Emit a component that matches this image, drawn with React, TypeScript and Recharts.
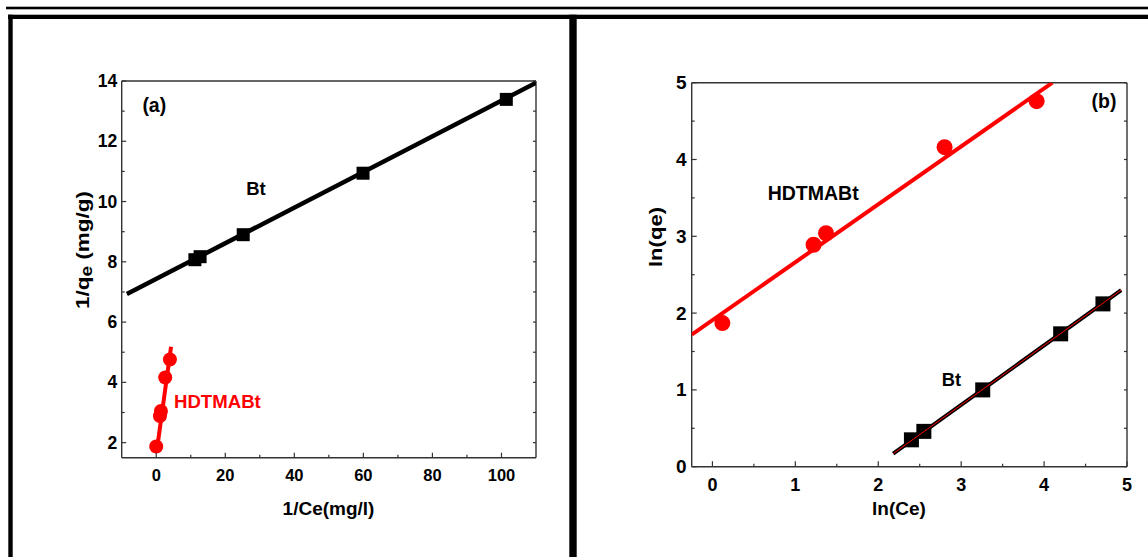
import React from 'react';
import { ScatterChart, Scatter, XAxis, YAxis } from 'recharts';

// ---------- data ----------
const leftBtPoints = [
  { x: 11.2, y: 8.07 },
  { x: 12.7, y: 8.17 },
  { x: 25.2, y: 8.9 },
  { x: 59.9, y: 10.94 },
  { x: 101.4, y: 13.39 },
];
const leftBtFit = [
  { x: -8.5, y: 6.93 },
  { x: 110, y: 13.94 },
];
const leftHdPoints = [
  { x: 0, y: 1.87 },
  { x: 1.07, y: 2.88 },
  { x: 1.36, y: 3.05 },
  { x: 2.6, y: 4.16 },
  { x: 3.97, y: 4.76 },
];
const leftHdFit = [
  { x: 0.1, y: 1.68 },
  { x: 4.3, y: 5.18 },
];

const rightHdPoints = [
  { x: 0.12, y: 1.87 },
  { x: 1.22, y: 2.89 },
  { x: 1.37, y: 3.04 },
  { x: 2.8, y: 4.16 },
  { x: 3.91, y: 4.76 },
];
const rightHdFit = [
  { x: -0.25, y: 1.72 },
  { x: 4.1, y: 5.0 },
];
const rightBtPoints = [
  { x: 2.4, y: 0.35 },
  { x: 2.55, y: 0.46 },
  { x: 3.26, y: 1.0 },
  { x: 4.2, y: 1.73 },
  { x: 4.71, y: 2.12 },
];
const rightBtFit = [
  { x: 2.18, y: 0.17 },
  { x: 4.93, y: 2.3 },
];

// ticks
const leftXTicks = [0, 10, 20, 30, 40, 50, 60, 70, 80, 90, 100];
const leftXMajor = [0, 20, 40, 60, 80, 100];
const leftYTicks = [2, 3, 4, 5, 6, 7, 8, 9, 10, 11, 12, 13, 14];
const leftYMajor = [2, 4, 6, 8, 10, 12, 14];
const rightXTicks = [0, 0.5, 1, 1.5, 2, 2.5, 3, 3.5, 4, 4.5, 5];
const rightXMajor = [0, 1, 2, 3, 4, 5];
const rightYTicks = [0, 0.5, 1, 1.5, 2, 2.5, 3, 3.5, 4, 4.5, 5];
const rightYMajor = [0, 1, 2, 3, 4, 5];

const FONT = "'Liberation Sans', Arial, Helvetica, sans-serif";
const AXIS = '#333';
const RED = '#ff0000';

type Side = 'bottom' | 'top' | 'left' | 'right';
interface TickOpts {
  side: Side;
  majors: number[];
  major: number;
  minor: number;
  fontSize?: number;
  labelOffset?: number;
  showLabel: boolean;
}

const makeTick = (o: TickOpts) => (props: any) => {
  const { x, y, payload } = props;
  const v = payload.value;
  const isMajor = o.majors.some((m) => Math.abs(m - v) < 1e-9);
  const len = isMajor ? o.major : o.minor;
  let line: any = null;
  let label: any = null;
  const txt = String(v);
  const tprops = {
    fontFamily: FONT,
    fontWeight: 'bold' as const,
    fontSize: o.fontSize,
    fill: '#000',
    dominantBaseline: 'central' as const,
  };
  if (o.side === 'bottom') {
    line = <line x1={x} x2={x} y1={y} y2={y - len} stroke={AXIS} strokeWidth={1.2} />;
    if (isMajor && o.showLabel)
      label = (
        <text x={x} y={y + (o.labelOffset || 0)} textAnchor="middle" {...tprops}>
          {txt}
        </text>
      );
  } else if (o.side === 'top') {
    line = <line x1={x} x2={x} y1={y} y2={y + len} stroke={AXIS} strokeWidth={1.2} />;
  } else if (o.side === 'left') {
    line = <line x1={x} x2={x + len} y1={y} y2={y} stroke={AXIS} strokeWidth={1.2} />;
    if (isMajor && o.showLabel)
      label = (
        <text x={x - (o.labelOffset || 0)} y={y} textAnchor="end" {...tprops}>
          {txt}
        </text>
      );
  } else {
    line = <line x1={x} x2={x - len} y1={y} y2={y} stroke={AXIS} strokeWidth={1.2} />;
  }
  return (
    <g>
      {line}
      {label}
    </g>
  );
};

const squareShape = (size: number) => (p: any) => (
  <rect x={p.cx - size / 2} y={p.cy - size / 2} width={size} height={size} fill="#000" />
);
const circleShape = (r: number) => (p: any) => <circle cx={p.cx} cy={p.cy} r={r} fill={RED} />;
const noShape = () => <g />;

const axisLine = { stroke: AXIS, strokeWidth: 1.4 };

const LeftChart = () => (
  <div style={{ position: 'absolute', left: 0, top: 0 }}>
    <ScatterChart
      width={560}
      height={557}
      margin={{ left: 81.7, right: 14, top: 71, bottom: 69.3 }}
    >
      <XAxis
        xAxisId="b"
        type="number"
        dataKey="x"
        domain={[-10, 110]}
        ticks={leftXTicks}
        interval={0}
        height={30}
        tickSize={0}
        tickMargin={0}
        axisLine={axisLine}
        tickLine={false}
        allowDataOverflow
        tick={makeTick({ side: 'bottom', majors: leftXMajor, major: 5, minor: 3, fontSize: 16.5, labelOffset: 17.6, showLabel: true })}
      />
      <XAxis
        xAxisId="t"
        orientation="top"
        type="number"
        domain={[-10, 110]}
        ticks={leftXTicks}
        interval={0}
        height={10}
        tickSize={0}
        tickMargin={0}
        axisLine={axisLine}
        tickLine={false}
        allowDataOverflow
        tick={makeTick({ side: 'top', majors: leftXMajor, major: 2.5, minor: 2.5, showLabel: false })}
      />
      <YAxis
        yAxisId="l"
        type="number"
        dataKey="y"
        domain={[1.5, 14]}
        ticks={leftYTicks}
        interval={0}
        width={40}
        tickSize={0}
        tickMargin={0}
        axisLine={axisLine}
        tickLine={false}
        allowDataOverflow
        tick={makeTick({ side: 'left', majors: leftYMajor, major: 4.5, minor: 3, fontSize: 17.5, labelOffset: 4.5, showLabel: true })}
      />
      <YAxis
        yAxisId="r"
        orientation="right"
        type="number"
        domain={[1.5, 14]}
        ticks={leftYTicks}
        interval={0}
        width={10}
        tickSize={0}
        tickMargin={0}
        axisLine={axisLine}
        tickLine={false}
        allowDataOverflow
        tick={makeTick({ side: 'right', majors: leftYMajor, major: 3, minor: 3, showLabel: false })}
      />
      <Scatter xAxisId="b" yAxisId="l" data={leftBtFit} line={{ stroke: '#000', strokeWidth: 4.5 }} shape={noShape} isAnimationActive={false} />
      <Scatter xAxisId="b" yAxisId="l" data={leftHdFit} line={{ stroke: RED, strokeWidth: 4 }} shape={noShape} isAnimationActive={false} />
      <Scatter xAxisId="b" yAxisId="l" data={leftBtPoints} shape={squareShape(13)} isAnimationActive={false} />
      <Scatter xAxisId="b" yAxisId="l" data={leftHdPoints} shape={circleShape(7)} isAnimationActive={false} />
    </ScatterChart>
  </div>
);

const RightChart = () => (
  <div style={{ position: 'absolute', left: 580, top: 0 }}>
    <ScatterChart
      width={568}
      height={557}
      margin={{ left: 71.7, right: 11, top: 72.7, bottom: 60.3 }}
    >
      <XAxis
        xAxisId="b"
        type="number"
        dataKey="x"
        domain={[-0.25, 5]}
        ticks={rightXTicks}
        interval={0}
        height={30}
        tickSize={0}
        tickMargin={0}
        axisLine={axisLine}
        tickLine={false}
        allowDataOverflow
        tick={makeTick({ side: 'bottom', majors: rightXMajor, major: 5.5, minor: 3, fontSize: 18, labelOffset: 17.8, showLabel: true })}
      />
      <XAxis
        xAxisId="t"
        orientation="top"
        type="number"
        domain={[-0.25, 5]}
        ticks={rightXTicks}
        interval={0}
        height={10}
        tickSize={0}
        tickMargin={0}
        axisLine={axisLine}
        tickLine={false}
        allowDataOverflow
        tick={makeTick({ side: 'top', majors: rightXMajor, major: 2.5, minor: 2.5, showLabel: false })}
      />
      <YAxis
        yAxisId="l"
        type="number"
        dataKey="y"
        domain={[0, 5]}
        ticks={rightYTicks}
        interval={0}
        width={40}
        tickSize={0}
        tickMargin={0}
        axisLine={axisLine}
        tickLine={false}
        allowDataOverflow
        tick={makeTick({ side: 'left', majors: rightYMajor, major: 5, minor: 3, fontSize: 19, labelOffset: 5, showLabel: true })}
      />
      <YAxis
        yAxisId="r"
        orientation="right"
        type="number"
        domain={[0, 5]}
        ticks={rightYTicks}
        interval={0}
        width={10}
        tickSize={0}
        tickMargin={0}
        axisLine={axisLine}
        tickLine={false}
        allowDataOverflow
        tick={makeTick({ side: 'right', majors: rightYMajor, major: 3, minor: 3, showLabel: false })}
      />
      <Scatter xAxisId="b" yAxisId="l" data={rightHdFit} line={{ stroke: RED, strokeWidth: 4 }} shape={noShape} isAnimationActive={false} />
      <Scatter xAxisId="b" yAxisId="l" data={rightHdPoints} shape={circleShape(8)} isAnimationActive={false} />
      <Scatter xAxisId="b" yAxisId="l" data={rightBtPoints} shape={squareShape(15)} isAnimationActive={false} />
      <Scatter xAxisId="b" yAxisId="l" data={rightBtFit} line={{ stroke: '#000', strokeWidth: 4 }} shape={noShape} isAnimationActive={false} />
      <Scatter xAxisId="b" yAxisId="l" data={rightBtFit} line={{ stroke: RED, strokeWidth: 1 }} shape={noShape} isAnimationActive={false} />
    </ScatterChart>
  </div>
);

const txt = {
  fontFamily: FONT,
  fontWeight: 'bold' as const,
  dominantBaseline: 'central' as const,
};

const Overlay = () => (
  <svg
    width={1148}
    height={557}
    style={{ position: 'absolute', left: 0, top: 0, pointerEvents: 'none' }}
  >
    {/* frame lines */}
    <rect x={6} y={6.7} width={1142} height={2.6} fill="#000" />
    <rect x={8} y={14.7} width={1140} height={4.3} fill="#000" />
    <rect x={8.3} y={14.7} width={4.4} height={543} fill="#000" />
    <rect x={569.3} y={14.7} width={7.4} height={543} fill="#000" />

    {/* panel (a) annotations */}
    <text x={154.3} y={105} textAnchor="middle" fontSize={19.5} {...txt}>(a)</text>
    <text x={256} y={188} textAnchor="middle" fontSize={18.5} {...txt}>Bt</text>
    <text x={174} y={401} textAnchor="start" fontSize={18.6} fill={RED} {...txt}>HDTMABt</text>
    <text
      x={82}
      y={250}
      textAnchor="middle"
      fontSize={19}
      transform="rotate(-90, 82, 250)"
      textLength={118}
      lengthAdjust="spacingAndGlyphs"
      {...txt}
    >
      1/q<tspan fontSize={16} dy={4}>e</tspan><tspan dy={-4}> (mg/g)</tspan>
    </text>
    <text x={328.5} y={508} textAnchor="middle" fontSize={19} {...txt}>1/Ce(mg/l)</text>

    {/* panel (b) annotations */}
    <text x={1104} y={101} textAnchor="middle" fontSize={19.5} {...txt}>(b)</text>
    <text x={767.7} y={193} textAnchor="start" fontSize={19.5} {...txt}>HDTMABt</text>
    <text x={941.7} y={379} textAnchor="start" fontSize={18.3} {...txt}>Bt</text>
    <text
      x={655}
      y={237}
      textAnchor="middle"
      fontSize={19}
      transform="rotate(-90, 655, 237)"
      textLength={60}
      lengthAdjust="spacingAndGlyphs"
      {...txt}
    >
      ln(qe)
    </text>
    <text x={899} y={508} textAnchor="middle" fontSize={19} {...txt}>ln(Ce)</text>
  </svg>
);

export default function App() {
  return (
    <div style={{ position: 'absolute', left: 0, top: 0, width: 1148, height: 557, background: '#fff' }}>
      <LeftChart />
      <RightChart />
      <Overlay />
    </div>
  );
}
